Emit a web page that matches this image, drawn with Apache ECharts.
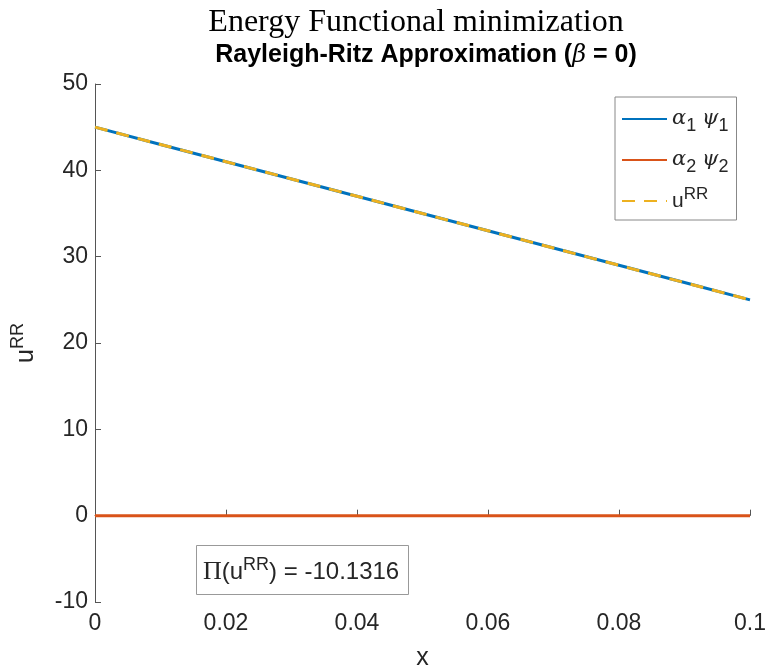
<!DOCTYPE html>
<html>
<head>
<meta charset="utf-8">
<title>Energy Functional minimization</title>
<script src="https://cdn.jsdelivr.net/npm/echarts@6/dist/echarts.min.js"></script>
<style>
  html, body { margin: 0; padding: 0; background: #fff; }
  #chart { width: 767px; height: 670px; }
</style>
</head>
<body>
<div id="chart"></div>
<script>
// Sample points along x
const xValues = [0, 0.01, 0.02, 0.03, 0.04, 0.05, 0.06, 0.07, 0.08, 0.09, 0.1];
// First basis term alpha_1 * psi_1
const alpha1Psi1 = [45, 43, 41, 39, 37, 35, 33, 31, 29, 27, 25];
// Second basis term alpha_2 * psi_2
const alpha2Psi2 = [0, 0, 0, 0, 0, 0, 0, 0, 0, 0, 0];
// Rayleigh-Ritz approximation u^RR
const uRR = [45, 43, 41, 39, 37, 35, 33, 31, 29, 27, 25];
// Energy functional value
const energyValue = -10.1316;

const seriesNames = ['a1p1', 'a2p2', 'uRR'];
const legendLabels = {
  a1p1: '{g|α}{sub|1} {g|ψ}{sub|1}',
  a2p2: '{g|α}{sub|2} {g|ψ}{sub|2}',
  uRR: 'u{sup|RR}'
};

const pairs = (ys) => xValues.map((x, i) => [x, ys[i]]);

const axisColor = '#555';
const textColor = '#262626';
const sansFont = '"Liberation Sans", Arial, Helvetica, sans-serif';

const chart = echarts.init(document.getElementById('chart'), null, { renderer: 'canvas' });

chart.setOption({
  animation: false,
  backgroundColor: '#fff',
  title: [
    {
      text: 'Energy Functional minimization',
      left: 411,
      textAlign: 'center',
      top: 2,
      textStyle: { fontFamily: '"Liberation Serif", "Times New Roman", serif', fontWeight: 'normal', fontSize: 32, color: '#000' }
    },
    {
      text: 'Rayleigh-Ritz Approximation ({b|β} = 0)',
      left: 421,
      textAlign: 'center',
      top: 38,
      textStyle: {
        fontFamily: sansFont, fontWeight: 'bold', fontSize: 25, color: '#000',
        rich: { b: { fontFamily: '"DejaVu Serif", serif', fontStyle: 'italic', fontWeight: 'normal', fontSize: 24, color: '#000' } }
      }
    },
    {
      text: '{p|Π}(u{sup|RR}) = ' + energyValue.toFixed(4),
      left: 196,
      top: 545,
      borderColor: '#999',
      borderWidth: 1,
      backgroundColor: '#fff',
      padding: [11, 10, 10, 7],
      textStyle: {
        fontFamily: sansFont, fontWeight: 'normal', fontSize: 24, color: textColor,
        rich: {
          p: { fontFamily: '"Liberation Serif", serif', fontSize: 26, color: textColor },
          sup: { fontFamily: sansFont, fontSize: 18, color: textColor, padding: [0, 0, 14, 0] }
        }
      }
    }
  ],
  grid: { left: 95, right: 17, top: 84, bottom: 68, containLabel: false, outerBoundsMode: 'none' },
  legend: {
    data: seriesNames,
    left: 615,
    top: 97,
    orient: 'vertical',
    borderColor: '#888',
    borderWidth: 1,
    backgroundColor: '#fff',
    padding: [5, 8, 2, 6],
    itemWidth: 45,
    itemHeight: 14,
    itemGap: 7,
    itemStyle: { color: 'rgba(0,0,0,0)', borderWidth: 0, borderColor: 'rgba(0,0,0,0)', opacity: 0 },
    formatter: (name) => legendLabels[name],
    textStyle: {
      fontFamily: sansFont, fontSize: 21, color: textColor, lineHeight: 34,
      rich: {
        g: { fontFamily: '"DejaVu Serif", serif', fontStyle: 'italic', fontSize: 21, color: textColor, lineHeight: 34 },
        sub: { fontFamily: sansFont, fontSize: 18, color: textColor, lineHeight: 18, padding: [15, 0, 0, 0] },
        sup: { fontFamily: sansFont, fontSize: 17, color: textColor, lineHeight: 17, padding: [0, 0, 14, 0] }
      }
    }
  },
  xAxis: {
    type: 'value',
    min: 0,
    max: 0.1,
    interval: 0.02,
    name: 'x',
    nameLocation: 'middle',
    nameGap: 44,
    nameTextStyle: { fontFamily: sansFont, fontSize: 25, color: textColor },
    axisLine: { show: true, lineStyle: { color: axisColor, width: 1 } },
    axisTick: { show: true, inside: true, length: 6, lineStyle: { color: axisColor } },
    axisLabel: {
      fontFamily: sansFont, fontSize: 23, color: textColor, margin: 10,
      formatter: (v) => (v === 0 ? '0' : String(+v.toFixed(2)))
    },
    splitLine: { show: false }
  },
  yAxis: {
    type: 'value',
    min: -10,
    max: 50,
    interval: 10,
    name: 'u{sup|RR}',
    nameLocation: 'middle',
    nameRotate: 90,
    nameGap: 52,
    nameTextStyle: {
      fontFamily: sansFont, fontSize: 25, color: textColor,
      rich: { sup: { fontFamily: sansFont, fontSize: 18, color: textColor, padding: [0, 0, 16, 0] } }
    },
    axisLine: { show: true, lineStyle: { color: axisColor, width: 1 } },
    axisTick: { show: true, inside: true, length: 6, lineStyle: { color: axisColor } },
    axisLabel: { fontFamily: sansFont, fontSize: 23, color: textColor, margin: 7 },
    splitLine: { show: false }
  },
  series: [
    {
      name: 'a1p1',
      type: 'line',
      data: pairs(alpha1Psi1),
      showSymbol: false,
      symbol: 'none',
      color: '#0072BD',
      lineStyle: { color: '#0072BD', width: 3 },
      z: 2
    },
    {
      name: 'a2p2',
      type: 'line',
      data: pairs(alpha2Psi2),
      showSymbol: false,
      symbol: 'none',
      color: '#D95319',
      lineStyle: { color: '#D95319', width: 3 },
      z: 2
    },
    {
      name: 'uRR',
      type: 'line',
      data: pairs(uRR),
      showSymbol: false,
      symbol: 'none',
      color: '#EDB120',
      lineStyle: { color: '#EDB120', width: 3, type: [13, 9] },
      z: 3
    }
  ]
});
</script>
</body>
</html>
